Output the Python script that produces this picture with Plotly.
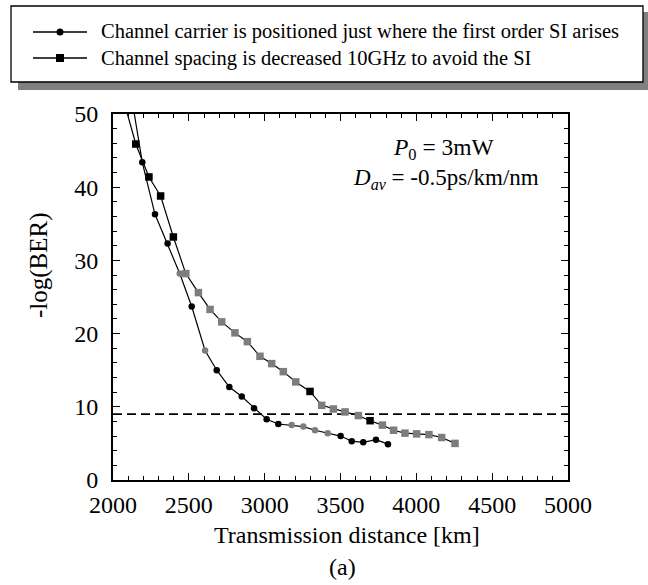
import plotly.graph_objects as go

# ---------------- data ----------------
circ_x = [2113, 2193, 2277, 2360, 2440, 2519, 2607, 2684, 2767, 2849, 2930,
          3013, 3090, 3178, 3255, 3332, 3416, 3501, 3574, 3650, 3734, 3813]
circ_y = [53.5, 43.4, 36.3, 32.3, 28.2, 23.7, 17.7, 15.0, 12.7, 11.4, 9.8,
          8.3, 7.65, 7.5, 7.3, 6.8, 6.4, 6.0, 5.3, 5.15, 5.5, 4.9]
circ_gray = [0, 0, 0, 0, 1, 0, 1, 0, 0, 0, 0,
             0, 0, 1, 1, 1, 1, 0, 0, 0, 0, 0]

sq_x = [2075, 2150, 2237, 2314, 2398, 2480, 2563, 2640, 2717, 2804, 2886, 2969,
        3046, 3123, 3205, 3299, 3376, 3453, 3530, 3618, 3695, 3776, 3850,
        3925, 4002, 4083, 4167, 4255]
sq_y = [51.5, 45.9, 41.4, 38.8, 33.2, 28.2, 25.6, 23.3, 21.6, 20.1, 18.9, 16.9,
        15.9, 14.8, 13.4, 12.1, 10.2, 9.7, 9.3, 8.8, 8.1, 7.5, 6.8,
        6.4, 6.3, 6.2, 5.8, 5.0]
sq_gray = [0, 0, 0, 0, 0, 1, 1, 1, 1, 1, 1, 1,
           1, 1, 1, 0, 1, 1, 1, 1, 0, 1, 1,
           1, 1, 1, 1, 1]

threshold = 9
x_range = [2000, 5000]
y_range = [0, 50]

series_names = ["Channel carrier is positioned just where the first order SI arises",
                "Channel spacing is decreased 10GHz to avoid the SI"]

# ---------------- layout helpers ----------------
W, H = 648, 585
L, R, T, B = 113, 80, 114, 105
PW, PH = W - L - R, H - T - B
FONT = "Liberation Serif, Times New Roman, serif"
GRAY = "#7d7d7d"


def px(xp):
    return (xp - L) / PW


def py(yp):
    return (H - B - yp) / PH


fig = go.Figure()

fig.add_trace(go.Scatter(
    x=x_range, y=[threshold, threshold], mode="lines",
    line=dict(color="black", width=1.6, dash="9px,5px"),
    showlegend=False, hoverinfo="skip"))

fig.add_trace(go.Scatter(
    x=circ_x, y=circ_y, mode="lines+markers", name=series_names[0],
    line=dict(color="black", width=1.2),
    marker=dict(symbol="circle", size=6.5,
                color=[GRAY if g else "black" for g in circ_gray],
                line=dict(width=0)),
    showlegend=False))

fig.add_trace(go.Scatter(
    x=sq_x, y=sq_y, mode="lines+markers", name=series_names[1],
    line=dict(color="black", width=1.2),
    marker=dict(symbol="square", size=7.5,
                color=[GRAY if g else "black" for g in sq_gray],
                line=dict(width=0)),
    showlegend=False))

axis_common = dict(
    showline=True, linecolor="black", linewidth=1.8, mirror="ticks",
    ticks="inside", ticklen=7, tickwidth=1.2, tickcolor="black",
    showgrid=False, zeroline=False,
    tickfont=dict(family=FONT, size=24, color="black"),
)

fig.update_xaxes(range=x_range, dtick=500, tick0=2000,
                 minor=dict(dtick=100, ticks="inside", ticklen=4, tickcolor="black", tickwidth=1),
                 ticklabelstandoff=2, **axis_common)
fig.update_yaxes(range=y_range, dtick=10, tick0=0,
                 minor=dict(dtick=2, ticks="inside", ticklen=4, tickcolor="black", tickwidth=1),
                 ticklabelstandoff=8, **axis_common)

shapes = []
annotations = []

# legend shadow + box
shapes.append(dict(type="rect", xref="paper", yref="paper",
                   x0=px(18), x1=px(648), y0=py(90), y1=py(82),
                   fillcolor="#808080", line=dict(width=0), layer="below"))
shapes.append(dict(type="rect", xref="paper", yref="paper",
                   x0=px(643), x1=px(648), y0=py(90), y1=py(12),
                   fillcolor="#808080", line=dict(width=0), layer="below"))
shapes.append(dict(type="rect", xref="paper", yref="paper",
                   x0=px(11), x1=px(643), y0=py(82), y1=py(6),
                   fillcolor="white", line=dict(color="black", width=1.3)))

for i, (yp, sym) in enumerate([(32, "circle"), (58, "square")]):
    shapes.append(dict(type="line", xref="paper", yref="paper",
                       x0=px(33), x1=px(87), y0=py(yp), y1=py(yp),
                       line=dict(color="black", width=1.4)))
    if sym == "circle":
        shapes.append(dict(type="circle", xref="paper", yref="paper",
                           x0=px(56.5), x1=px(63.5), y0=py(yp + 3.5), y1=py(yp - 3.5),
                           fillcolor="black", line=dict(width=0)))
    else:
        shapes.append(dict(type="rect", xref="paper", yref="paper",
                           x0=px(56), x1=px(64), y0=py(yp + 4), y1=py(yp - 4),
                           fillcolor="black", line=dict(width=0)))
    annotations.append(dict(xref="paper", yref="paper", x=px(99), y=py(yp),
                            xanchor="left", yanchor="middle", showarrow=False,
                            text=series_names[i],
                            font=dict(family=FONT, size=20.5, color="black")))

# in-plot text
annotations.append(dict(xref="paper", yref="paper", x=px(444), y=py(149),
                        xanchor="center", yanchor="middle", showarrow=False,
                        text="<i>P</i><sub>0</sub> = 3mW",
                        font=dict(family=FONT, size=23.5, color="black")))
annotations.append(dict(xref="paper", yref="paper", x=px(446), y=py(179),
                        xanchor="center", yanchor="middle", showarrow=False,
                        text="<i>D</i><sub><i>av</i></sub> = -0.5ps/km/nm",
                        font=dict(family=FONT, size=23, color="black")))

# axis titles and caption
annotations.append(dict(xref="paper", yref="paper", x=px(347), y=py(535),
                        xanchor="center", yanchor="middle", showarrow=False,
                        text="Transmission distance [km]",
                        font=dict(family=FONT, size=24, color="black")))
annotations.append(dict(xref="paper", yref="paper", x=px(39), y=py(265),
                        xanchor="center", yanchor="middle", showarrow=False,
                        text="-log(BER)", textangle=-90,
                        font=dict(family=FONT, size=25, color="black")))
annotations.append(dict(xref="paper", yref="paper", x=px(342), y=py(567),
                        xanchor="center", yanchor="middle", showarrow=False,
                        text="(a)",
                        font=dict(family=FONT, size=24, color="black")))

fig.update_layout(
    width=W, height=H,
    margin=dict(l=L, r=R, t=T, b=B),
    paper_bgcolor="white", plot_bgcolor="white",
    showlegend=False,
    shapes=shapes, annotations=annotations,
    font=dict(family=FONT, color="black"),
)

fig.write_html("out.html")
